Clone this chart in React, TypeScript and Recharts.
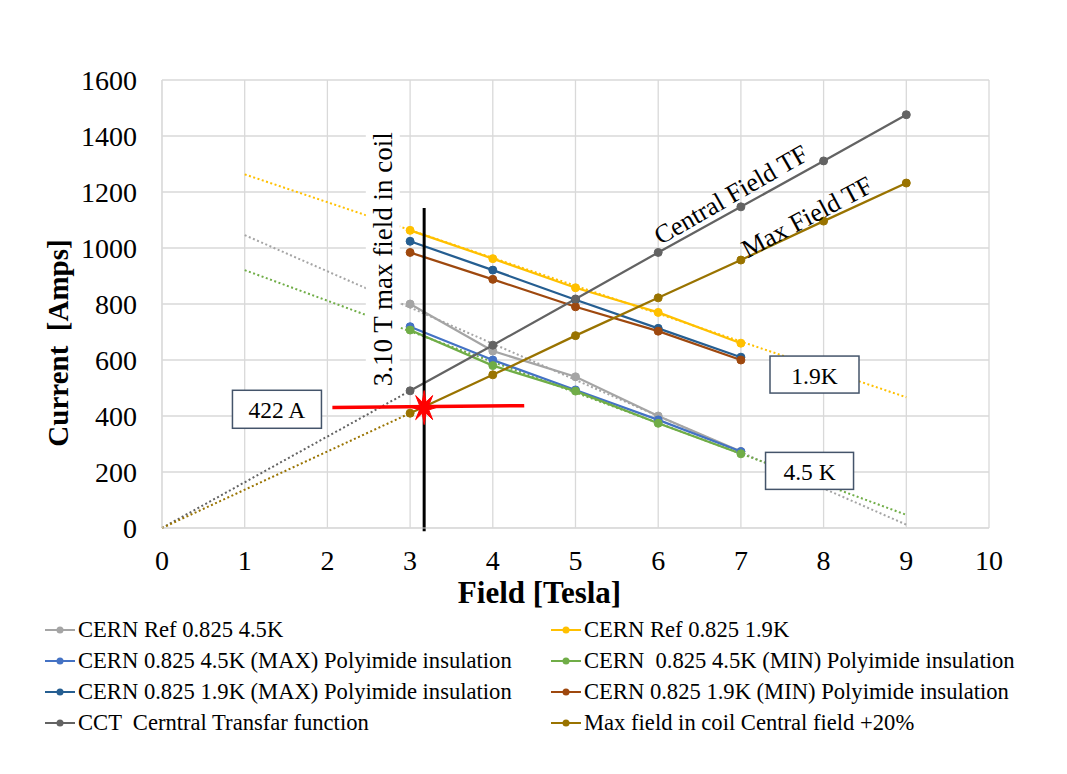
import React from "react";
import {
  LineChart,
  Line,
  CartesianGrid,
  XAxis,
  YAxis,
  ReferenceLine,
  ReferenceDot,
} from "recharts";

const fieldMain = [3, 4, 5, 6, 7];
const fieldTF = [3, 4, 5, 6, 7, 8, 9];

const refCern45 = [800, 632, 540, 400, 273];
const refCern19 = [1063, 962, 858, 770, 660];
const cern45Max = [719, 600, 493, 386, 273];
const cern45Min = [707, 580, 489, 374, 265];
const cern19Max = [1024, 921, 815, 713, 610];
const cern19Min = [984, 888, 790, 703, 600];
const centralTF = [490, 653, 818, 984, 1147, 1311, 1476];
const maxFieldTF = [410, 547, 687, 822, 957, 1096, 1232];

// dotted trendline ends [x0, y0, x1, y1]
const trendRef45 = [1, 1046, 9, 12];
const trendRef19 = [1, 1263, 9, 467];
const trend45Min = [1, 921, 9, 47];
const trendCentral = [0, 0, 3, 490];
const trendMaxField = [0, 0, 3, 410];

const xTicks = [0, 1, 2, 3, 4, 5, 6, 7, 8, 9, 10];
const yTicks = [0, 200, 400, 600, 800, 1000, 1200, 1400, 1600];

const FONT = "'Liberation Serif', 'Times New Roman', serif";

const toPts = (xs: number[], ys: number[]) => xs.map((x, i) => ({ x, y: ys[i] }));
const toTrend = (t: number[]) => [
  { x: t[0], y: t[1] },
  { x: t[2], y: t[3] },
];

const series = [
  { name: "CERN Ref 0.825 4.5K", color: "#A5A5A5", data: toPts(fieldMain, refCern45) },
  { name: "CERN Ref 0.825 1.9K", color: "#FFC000", data: toPts(fieldMain, refCern19) },
  { name: "CERN 0.825 4.5K (MAX) Polyimide insulation", color: "#4472C4", data: toPts(fieldMain, cern45Max) },
  { name: "CERN  0.825 4.5K (MIN) Polyimide insulation", color: "#70AD47", data: toPts(fieldMain, cern45Min) },
  { name: "CERN 0.825 1.9K (MAX) Polyimide insulation", color: "#255E91", data: toPts(fieldMain, cern19Max) },
  { name: "CERN 0.825 1.9K (MIN) Polyimide insulation", color: "#9E480E", data: toPts(fieldMain, cern19Min) },
  { name: "CCT  Cerntral Transfar function", color: "#636363", data: toPts(fieldTF, centralTF) },
  { name: "Max field in coil Central field +20%", color: "#997300", data: toPts(fieldTF, maxFieldTF) },
];

const trends = [
  { color: "#A5A5A5", data: toTrend(trendRef45) },
  { color: "#FFC000", data: toTrend(trendRef19) },
  { color: "#70AD47", data: toTrend(trend45Min) },
  { color: "#636363", data: toTrend(trendCentral) },
  { color: "#997300", data: toTrend(trendMaxField) },
];

const Star = (p: any) => {
  const { cx, cy } = p;
  const pts: string[] = [];
  for (let i = 0; i < 16; i++) {
    const a = (Math.PI * i) / 8 - Math.PI / 2;
    const out = i % 2 === 0;
    const rx = out ? 12 : 5;
    const ry = out ? 17 : 6;
    pts.push(`${cx + rx * Math.cos(a)},${cy + ry * Math.sin(a)}`);
  }
  return <polygon points={pts.join(" ")} fill="#FF0000" stroke="#FF0000" />;
};

const rotText = (label: string, angle: number, size: number, bg?: { w: number; h: number }) => (p: any) => (
  <g transform={`translate(${p.cx},${p.cy}) rotate(${angle})`}>
    {bg && <rect x={-bg.w / 2} y={-bg.h / 2} width={bg.w} height={bg.h} fill="#fff" />}
    <text textAnchor="middle" dominantBaseline="central" fontFamily={FONT} fontSize={size} fill="#000">
      {label}
    </text>
  </g>
);

const boxText = (label: string, w: number, h: number) => (p: any) => (
  <g>
    <rect x={p.cx - w / 2} y={p.cy - h / 2} width={w} height={h} fill="#fff" stroke="#44546A" strokeWidth={1.5} />
    <text x={p.cx} y={p.cy + 1} textAnchor="middle" dominantBaseline="central" fontFamily={FONT} fontSize={23.5} fill="#000">
      {label}
    </text>
  </g>
);

const YTitle = () => (
  <text
    x={58}
    y={343}
    transform="rotate(-90 58 343)"
    textAnchor="middle"
    dominantBaseline="central"
    fontFamily={FONT}
    fontSize={29}
    fontWeight="bold"
    fill="#000"
    style={{ whiteSpace: "pre" }}
  >
    {"Current  [Amps]"}
  </text>
);

const Legend = () => (
  <div
    style={{
      position: "absolute",
      left: 45,
      top: 614,
      width: 1000,
      display: "grid",
      gridTemplateColumns: "506px 480px",
      fontFamily: FONT,
      fontSize: 22.6,
      lineHeight: "31px",
      color: "#000",
    }}
  >
    {series.map((s) => (
      <div key={s.name} style={{ display: "flex", alignItems: "center", whiteSpace: "pre" }}>
        <svg width={30} height={10} style={{ marginRight: 3 }}>
          <line x1={0} y1={5} x2={30} y2={5} stroke={s.color} strokeWidth={2} />
          <circle cx={15} cy={5} r={3.5} fill={s.color} />
        </svg>
        {s.name}
      </div>
    ))}
  </div>
);

export default function App() {
  return (
    <div style={{ position: "absolute", left: 0, top: 0, width: 1067, height: 774, background: "#fff" }}>
      <LineChart width={1067} height={774} margin={{ top: 80, right: 78, bottom: 216, left: 0 }}>
        <CartesianGrid stroke="#D9D9D9" strokeWidth={1.3} />
        <XAxis
          type="number"
          dataKey="x"
          domain={[0, 10]}
          ticks={xTicks}
          tickLine={false}
          stroke="#D9D9D9"
          height={30}
          tick={{ fill: "#000", fontFamily: FONT, fontSize: 28, dy: 14 }}
          label={{ value: "Field [Tesla]", position: "insideBottom", dx: -36, dy: 50, fill: "#000", fontFamily: FONT, fontSize: 31, fontWeight: "bold" }}
        />
        <YAxis
          type="number"
          dataKey="y"
          domain={[0, 1600]}
          ticks={yTicks}
          tickLine={false}
          stroke="#D9D9D9"
          width={162}
          tick={{ fill: "#000", fontFamily: FONT, fontSize: 28, dx: -17 }}
          label={<YTitle />}
        />
        {trends.map((t, i) => (
          <Line
            key={"t" + i}
            data={t.data}
            dataKey="y"
            stroke={t.color}
            strokeWidth={2}
            strokeDasharray="2 2.5"
            dot={false}
            activeDot={false}
            legendType="none"
            isAnimationActive={false}
          />
        ))}
        {series.map((s) => (
          <Line
            key={s.name}
            name={s.name}
            data={s.data}
            dataKey="y"
            stroke={s.color}
            strokeWidth={2.25}
            dot={{ r: 4, fill: s.color, stroke: s.color, strokeWidth: 1 }}
            activeDot={false}
            isAnimationActive={false}
          />
        ))}
        <ReferenceDot x={2.67} y={960} r={0} ifOverflow="visible" shape={rotText("3.10 T max field in coil", -90, 27, { w: 256, h: 34 })} />
        <ReferenceLine
          segment={[
            { x: 3.17, y: -12 },
            { x: 3.17, y: 1143 },
          ]}
          stroke="#000"
          strokeWidth={3}
          ifOverflow="visible"
        />
        <ReferenceLine
          segment={[
            { x: 2.06, y: 430 },
            { x: 4.38, y: 437 },
          ]}
          stroke="#FF0000"
          strokeWidth={3.5}
          ifOverflow="visible"
        />
        <ReferenceDot x={3.17} y={430} r={0} ifOverflow="visible" shape={Star} />
        <ReferenceDot x={6.88} y={1190} r={0} ifOverflow="visible" shape={rotText("Central Field TF", -30, 26)} />
        <ReferenceDot x={7.8} y={1110} r={0} ifOverflow="visible" shape={rotText("Max Field TF", -28, 26)} />
        <ReferenceDot x={1.39} y={424} r={0} ifOverflow="visible" shape={boxText("422 A", 89, 38)} />
        <ReferenceDot x={7.89} y={548} r={0} ifOverflow="visible" shape={boxText("1.9K", 89, 37)} />
        <ReferenceDot x={7.83} y={204} r={0} ifOverflow="visible" shape={boxText("4.5 K", 88, 37)} />
      </LineChart>
      <Legend />
    </div>
  );
}
